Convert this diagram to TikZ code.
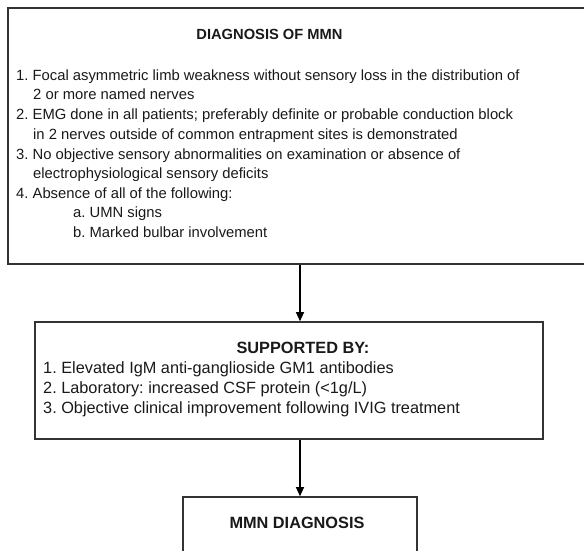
\documentclass[tikz,border=0pt]{standalone}
\usepackage{fontspec}
\setmainfont{Liberation Sans}
\usetikzlibrary{arrows.meta}
\frenchspacing
\begin{document}
\begin{tikzpicture}[x=1pt,y=-1pt,
  box/.style={draw=black!80,line width=1.6pt,fill=none,inner sep=0pt},
  txt/.style={anchor=west,inner sep=0pt,text height=0.72em,text depth=0.2em,font=\fontsize{14.8}{17}\selectfont,text=black!90},
  ttl/.style={inner sep=0pt,text height=0.72em,text depth=0.2em,font=\fontsize{14.7}{17}\selectfont\bfseries,text=black!90},
  txtl/.style={txt,font=\fontsize{16.3}{19}\selectfont},
  ttll/.style={ttl,font=\fontsize{16.3}{19}\selectfont\bfseries},
  conn/.style={draw=black,line width=1.1pt,-{Triangle[width=8pt,length=9pt]}}]
\useasboundingbox (0,0) rectangle (584,550);
% boxes
\node[box,minimum width=584pt,minimum height=256pt] (top) at (300,136) {};
\node[box,minimum width=508pt,minimum height=117pt] (mid) at (289,380.5) {};
\node[box,minimum width=234pt,minimum height=80pt] (bot) at (300,537) {};
% top box text
\node[ttl] (t0) at (269.5,37) {DIAGNOSIS OF MMN};
\node[txt] (t1) at (16,78) {1. Focal asymmetric limb weakness without sensory loss in the distribution of};
\node[txt] (t2) at (33,97) {2 or more named nerves};
\node[txt] (t3) at (16,117) {2. EMG done in all patients; preferably definite or probable conduction block};
\node[txt] (t4) at (33,137) {in 2 nerves outside of common entrapment sites is demonstrated};
\node[txt] (t5) at (16,157) {3. No objective sensory abnormalities on examination or absence of};
\node[txt] (t6) at (33,176) {electrophysiological sensory deficits};
\node[txt] (t7) at (16,196) {4. Absence of all of the following:};
\node[txt] (t8) at (73,215) {a. UMN signs};
\node[txt] (t9) at (73,235) {b. Marked bulbar involvement};
% middle box text
\node[ttll] (m0) at (303,351) {SUPPORTED BY:};
\node[txtl] (m1) at (43,371) {1. Elevated IgM anti-ganglioside GM1 antibodies};
\node[txtl] (m2) at (43,391) {2. Laboratory: increased CSF protein (<1g/L)};
\node[txtl] (m3) at (43,411) {3. Objective clinical improvement following IVIG treatment};
% bottom box text
\node[ttll] (b0) at (297,526) {MMN DIAGNOSIS};
% connectors
\draw[conn] (top.south -| 300,0) -- (mid.north -| 300,0);
\draw[conn] (mid.south -| 300,0) -- (bot.north);
\end{tikzpicture}
\end{document}
